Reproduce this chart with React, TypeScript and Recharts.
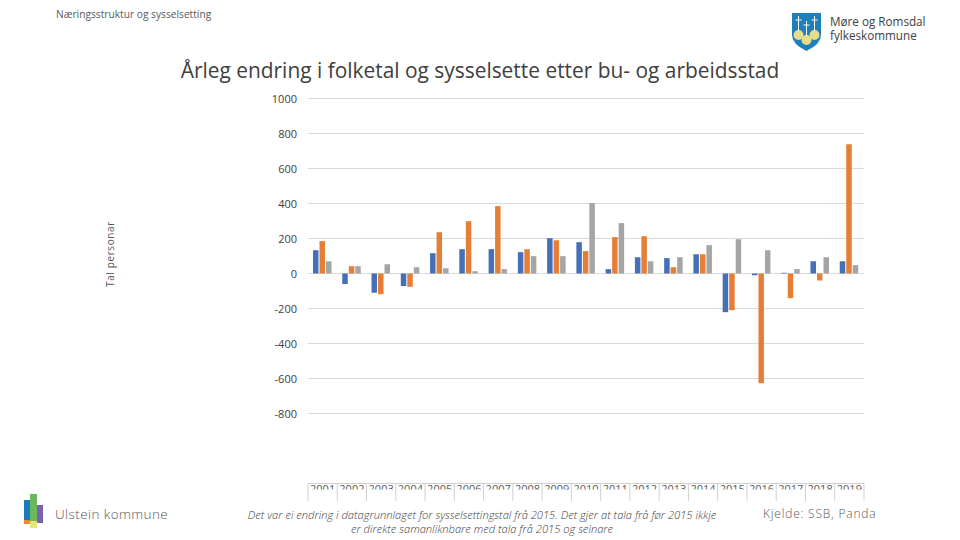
import React from 'react';
import { BarChart, Bar, XAxis, YAxis, CartesianGrid } from 'recharts';

const years = ['2001', '2002', '2003', '2004', '2005', '2006', '2007', '2008', '2009', '2010', '2011', '2012', '2013', '2014', '2015', '2016', '2017', '2018', '2019'];
const folketal = [133, -60, -110, -72, 116, 139, 139, 122, 202, 179, 25, 93, 88, 110, -221, -10, 4, 70, 70];
const sysselBu = [185, 42, -118, -76, 236, 299, 385, 139, 190, 128, 208, 213, 36, 110, -210, -627, -141, -40, 739];
const sysselArbeid = [70, 42, 53, 36, 30, 13, 25, 99, 99, 402, 288, 70, 93, 162, 196, 133, 25, 93, 48];
const yTicks = [1000, 800, 600, 400, 200, 0, -200, -400, -600, -800];

const data = years.map((year, i) => ({
  year,
  folketal: folketal[i],
  sysselBu: sysselBu[i],
  sysselArbeid: sysselArbeid[i],
}));

const FONT = '"Open Sans", sans-serif';
const TEXT = '#595959';
const PLOT_WIDTH = 556;
const BAND = PLOT_WIDTH / years.length;

// Year labels are cut off halfway in the original, tick lines run on below them
const YearTick = ({ x, y, payload, index }: any) => (
  <g>
    <text x={x} y={y + 9.5} textAnchor="middle" fontSize={11} fontFamily={FONT} fill={TEXT}>
      {payload.value}
    </text>
    <rect x={x - BAND / 2 + 1} y={y + 6} width={BAND - 2} height={12} fill="#ffffff" />
    <line x1={x - BAND / 2} x2={x - BAND / 2} y1={y} y2={y + 17.5} stroke="#d0d0d0" />
    {index === years.length - 1 && (
      <line x1={x + BAND / 2} x2={x + BAND / 2} y1={y} y2={y + 17.5} stroke="#d0d0d0" />
    )}
  </g>
);

const ValueTick = ({ x, y, payload }: any) => (
  <text x={x} y={y + 4} textAnchor="end" fontSize={11} fontFamily={FONT} fill="#404040">
    {payload.value}
  </text>
);

const label = (left: number, top: number, size: number, text: string, extra: React.CSSProperties = {}) => (
  <div style={{ position: 'absolute', left, top, fontSize: size, fontFamily: FONT, color: TEXT, whiteSpace: 'nowrap', lineHeight: 1, ...extra }}>
    {text}
  </div>
);

const App: React.FC = () => {
  return (
    <div style={{ position: 'absolute', left: 0, top: 0, width: 960, height: 540, background: '#ffffff', overflow: 'hidden' }}>
      {label(56, 9, 10.2, 'Næringsstruktur og sysselsetting')}
      <div style={{ position: 'absolute', left: 0, width: 960, top: 57, textAlign: 'center', fontSize: 20.9, lineHeight: 1.3, fontFamily: FONT, color: '#404040', whiteSpace: 'nowrap' }}>
        Årleg endring i folketal og sysselsette etter bu- og arbeidsstad
      </div>

      <svg width={46} height={54} style={{ position: 'absolute', left: 790, top: 11 }}>
        <path d="M2 2 H31 V24 Q31 33 16.500 40 Q2 33 2 24 Z" fill="#1f7fb8" />
        <circle cx={8.500} cy={24} r={5} fill="#e6dc8c" />
        <circle cx={16.500} cy={29} r={5} fill="#e6dc8c" />
        <circle cx={24.500} cy={24} r={5} fill="#e6dc8c" />
        <path d="M8.500 5 V20 M5.500 9 H11.500 M16.500 10 V25 M13.500 14 H19.500 M24.500 5 V20 M21.500 9 H27.500" stroke="#ffffff" strokeWidth={1} />
      </svg>
      {label(830, 15.500, 11.7, 'Møre og Romsdal', { color: '#404040' })}
      {label(830, 30, 11.7, 'fylkeskommune', { color: '#404040' })}

      <BarChart
        width={960}
        height={540}
        data={data}
        barSize={5.5}
        barGap={1}
        margin={{ top: 98.5, right: 96, bottom: 36.5, left: 260 }}
      >
        <CartesianGrid vertical={false} stroke="#d9d9d9" strokeWidth={1} />
        <XAxis
          dataKey="year"
          height={20}
          interval={0}
          tickLine={false}
          tickSize={0}
          tickMargin={0}
          axisLine={{ stroke: '#d0d0d0' }}
          tick={YearTick}
        />
        <YAxis
          width={48}
          domain={[-1200, 1000]}
          ticks={yTicks}
          interval={0}
          tickLine={false}
          tickSize={0}
          axisLine={false}
          tickMargin={11}
          tick={ValueTick}
        />
        <Bar dataKey="folketal" fill="#4570b8" isAnimationActive={false} />
        <Bar dataKey="sysselBu" fill="#e57f38" isAnimationActive={false} />
        <Bar dataKey="sysselArbeid" fill="#a5a5a5" isAnimationActive={false} />
      </BarChart>

      <div style={{ position: 'absolute', left: 60, top: 249, width: 100, textAlign: 'center', transform: 'rotate(-90deg)', fontSize: 10, lineHeight: 1, fontFamily: FONT, color: TEXT, letterSpacing: 0.6 }}>
        Tal personar
      </div>

      <div style={{ position: 'absolute', left: 24, top: 500, width: 6, height: 20, background: '#1b7db5' }} />
      <div style={{ position: 'absolute', left: 24, top: 520, width: 6, height: 4, background: '#ee8a2c' }} />
      <div style={{ position: 'absolute', left: 30, top: 494, width: 7, height: 27, background: '#6cb85f' }} />
      <div style={{ position: 'absolute', left: 30, top: 521, width: 7, height: 7, background: '#e6e87a' }} />
      <div style={{ position: 'absolute', left: 37, top: 505, width: 6, height: 18, background: '#7a63ad' }} />
      {label(55, 508, 13.5, 'Ulstein kommune', { fontWeight: 300, letterSpacing: 0.4 })}

      <div style={{ position: 'absolute', left: 220, top: 508, width: 524, textAlign: 'center', fontSize: 11.15, lineHeight: '14px', fontStyle: 'italic', fontWeight: 300, fontFamily: FONT, color: '#404040', whiteSpace: 'nowrap' }}>
        Det var ei endring i datagrunnlaget for sysselsettingstal frå 2015. Det gjer at tala frå før 2015 ikkje
        <br />
        er direkte samanliknbare med tala frå 2015 og seinare
      </div>
      {label(763, 508, 11.2, 'Kjelde: SSB, Panda', { letterSpacing: 0.8, fontWeight: 300, fontSize: 12 })}
    </div>
  );
};

export default App;
